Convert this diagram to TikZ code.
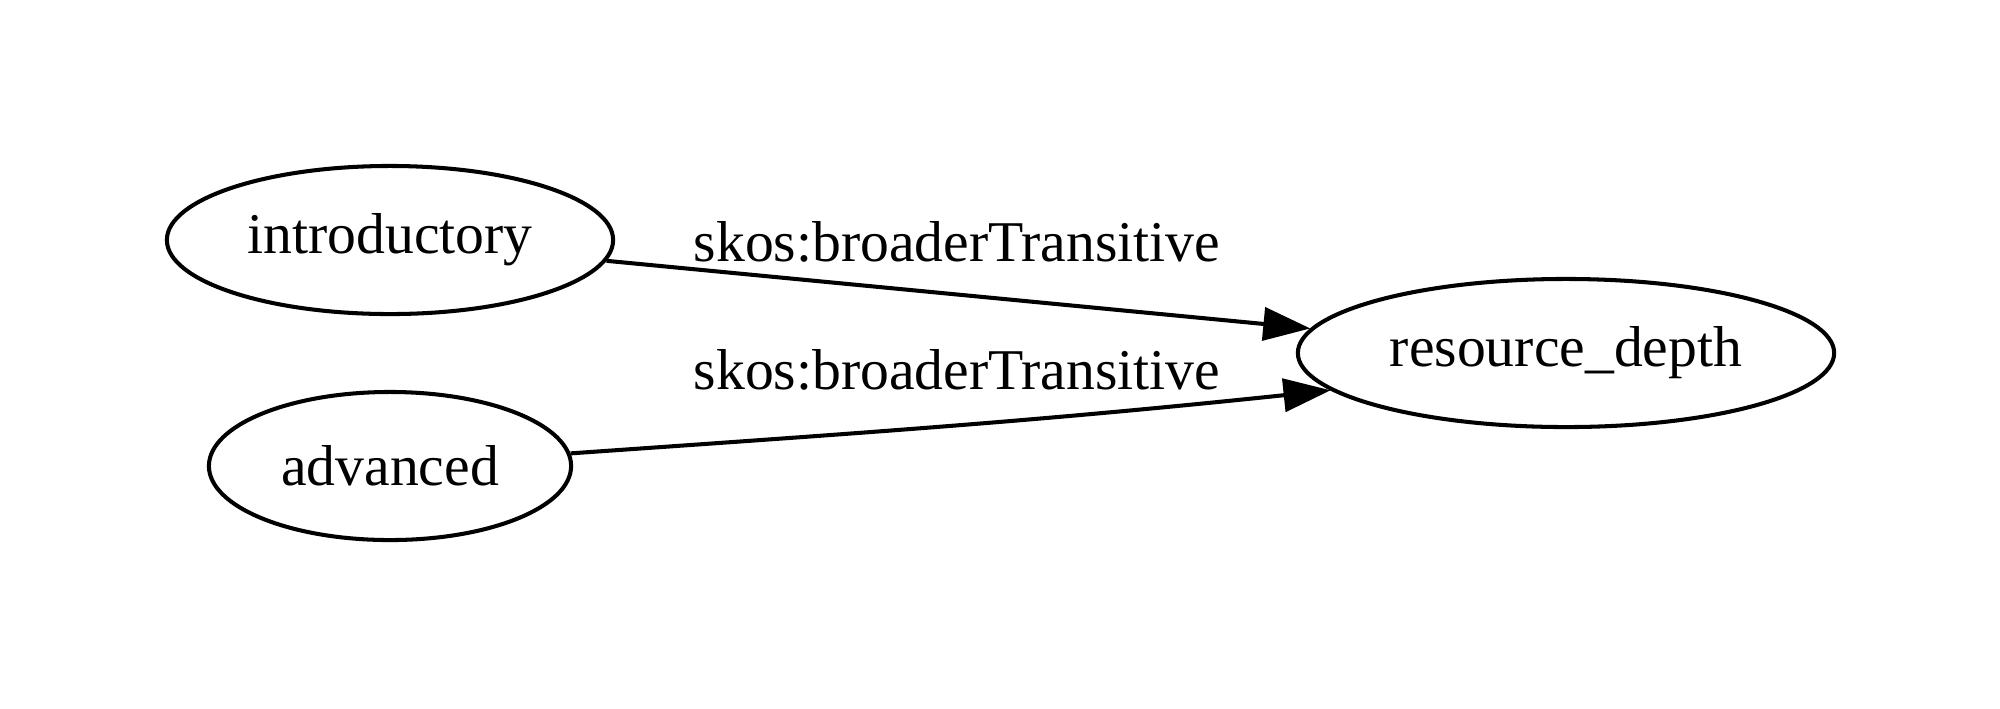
\documentclass[tikz,border=0pt]{standalone}
\usepackage{fontspec}
\setmainfont{Liberation Serif}
\usetikzlibrary{shapes.geometric,arrows.meta}

\tikzset{
    concept/.style={draw, ellipse, line width=1.15pt, inner sep=0pt, minimum height=1.48cm},
    rel/.style={-{Triangle[length=0.47cm,width=0.33cm]}, line width=1.15pt},
    rellabel/.style={inner sep=0pt}
}

\begin{document}
\begin{tikzpicture}[x=0.01cm, y=-0.01cm, font=\fontsize{16.4}{19}\selectfont]
    \useasboundingbox (0,0) rectangle (2000,708);

    % Concepts
    \node[concept, minimum width=4.46cm] (introductory) at (390,240) {introductory};
    \node[concept, minimum width=3.62cm] (advanced) at (390,466) {advanced};
    \node[concept, minimum width=5.36cm] (resource_depth) at (1566,353) {resource\_depth};

    % Relations
    \draw[rel] (introductory) -- (resource_depth);
    \draw[rel] (advanced.4) to[out=4, in=186] (resource_depth.189);

    % Labels
    \node[rellabel] (label1) at (957,242) {skos:broaderTransitive};
    \node[rellabel] (label2) at (957,370) {skos:broaderTransitive};
\end{tikzpicture}
\end{document}
